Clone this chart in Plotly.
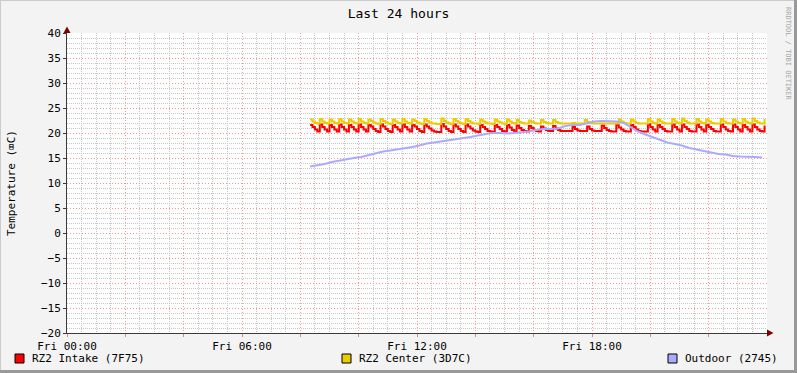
import pandas as pd
import plotly.graph_objects as go

# ---- data (5-minute samples starting Fri 08:20) ----
intake = [
    21.6, 21.2, 20.7, 20.3, 21.7, 21.2, 20.7, 20.3, 21.6, 21.2, 20.7, 20.3,
    21.7, 21.2, 20.7, 20.3, 21.6, 21.2, 20.7, 20.3, 21.7, 21.2, 20.7, 20.3,
    21.6, 21.3, 20.8, 20.4, 20.2, 21.7, 21.3, 20.8, 20.4, 20.2, 21.6, 21.2,
    20.7, 20.3, 21.7, 21.2, 20.7, 20.3, 21.6, 21.3, 20.8, 20.4, 20.2, 21.7,
    21.3, 20.9, 20.5, 20.3, 20.2, 20.2, 21.8, 21.3, 20.8, 20.4, 20.2, 21.7,
    21.3, 20.8, 20.4, 20.2, 21.7, 21.3, 20.9, 20.5, 20.3, 20.2, 21.6, 21.2,
    20.8, 20.4, 20.3, 20.2, 21.6, 21.2, 20.8, 20.4, 20.3, 21.6, 21.1, 20.6,
    20.3, 21.5, 21.0, 20.6, 20.4, 20.3, 21.4, 21.0, 20.6, 20.4, 20.3, 21.3,
    20.9, 20.6, 20.4, 20.4, 21.4, 20.9, 20.6, 20.4, 20.4, 20.4, 20.4, 20.4,
    21.2, 20.8, 20.5, 20.4, 20.4, 20.4, 21.3, 20.8, 20.5, 20.4, 20.4, 20.4,
    21.5, 21.0, 20.6, 20.4, 20.3, 20.3, 21.6, 21.1, 20.7, 20.4, 20.3, 20.3,
    21.6, 21.2, 20.7, 20.4, 20.3, 20.3, 20.3, 21.7, 21.2, 20.7, 20.3, 21.6,
    21.2, 20.8, 20.4, 20.3, 20.3, 21.7, 21.2, 20.7, 20.3, 21.7, 21.2, 20.8,
    20.4, 20.3, 20.3, 21.7, 21.2, 20.7, 20.3, 21.6, 21.2, 20.8, 20.4, 20.3,
    20.3, 21.7, 21.2, 20.7, 20.4, 20.3, 21.7, 21.2, 20.7, 20.3, 21.6, 21.2,
    20.7, 20.3, 21.7, 21.2, 20.7, 20.4, 20.3, 21.5,
]
center = [
    22.7, 22.3, 22.0, 21.9, 22.8, 22.3, 22.0, 21.9, 22.7, 22.3, 22.0, 21.9,
    22.8, 22.3, 22.0, 21.9, 22.7, 22.3, 22.0, 21.9, 22.8, 22.3, 22.0, 21.9,
    22.7, 22.4, 22.1, 21.9, 21.8, 22.8, 22.4, 22.1, 21.9, 21.8, 22.7, 22.3,
    22.0, 21.9, 22.8, 22.3, 22.0, 21.9, 22.7, 22.4, 22.1, 21.9, 21.8, 22.8,
    22.4, 22.1, 21.9, 21.9, 21.8, 21.8, 22.9, 22.4, 22.1, 21.9, 21.8, 22.8,
    22.4, 22.1, 21.9, 21.8, 22.8, 22.4, 22.1, 21.9, 21.9, 21.8, 22.7, 22.3,
    22.1, 21.9, 21.9, 21.8, 22.7, 22.3, 22.1, 21.9, 21.8, 22.7, 22.3, 22.0,
    21.9, 22.6, 22.2, 22.0, 21.9, 21.9, 22.5, 22.2, 22.0, 21.9, 21.9, 22.6,
    22.2, 22.0, 21.9, 21.9, 22.6, 22.2, 22.0, 21.9, 21.9, 21.9, 21.9, 21.9,
    22.0, 21.9, 21.9, 21.9, 21.9, 22.6, 22.2, 22.0, 21.9, 21.9, 21.9, 21.9,
    21.9, 21.9, 21.9, 21.9, 21.9, 21.9, 21.9, 22.7, 22.3, 22.0, 21.9, 21.9,
    22.7, 22.3, 22.0, 21.9, 21.9, 21.9, 21.9, 22.8, 22.3, 22.0, 21.9, 22.7,
    22.3, 22.0, 21.9, 21.9, 21.9, 22.8, 22.3, 22.0, 21.9, 22.9, 22.4, 22.1,
    21.9, 21.9, 21.9, 22.8, 22.3, 22.0, 21.9, 22.7, 22.3, 22.0, 21.9, 21.9,
    21.9, 22.8, 22.3, 22.0, 21.9, 21.9, 22.7, 22.3, 22.0, 21.9, 22.8, 22.3,
    22.0, 21.9, 22.9, 22.4, 22.1, 21.9, 21.9, 22.8,
]
# 15-minute samples starting Fri 08:20
outdoor = [
    13.3, 13.5, 13.8, 14.2, 14.5, 14.8, 15.0, 15.2, 15.6, 15.9, 16.3, 16.5,
    16.7, 16.9, 17.2, 17.5, 17.9, 18.1, 18.3, 18.5, 18.7, 19.0, 19.2, 19.5,
    19.8, 20.0, 20.0, 19.9, 20.0, 20.1, 20.3, 20.6, 20.8, 20.8, 20.9, 21.4,
    21.6, 21.6, 21.9, 22.3, 22.4, 22.3, 22.3, 22.0, 21.2, 20.3, 19.7, 19.2,
    18.6, 18.1, 17.8, 17.5, 17.0, 16.7, 16.4, 16.0, 15.8, 15.7, 15.4, 15.3,
    15.3, 15.2, 15.1,
]
series_names = ["RZ2 Intake (7F75)", "RZ2 Center (3D7C)", "Outdoor (2745)"]
series_colors = ["#FF0000", "#EACC00", "#AAAAFF"]
tick_hours = [0, 2, 4, 6, 8, 10, 12, 14, 16, 18, 20, 22]
tick_labels = ["Fri 00:00", "", "", "Fri 06:00", "", "", "Fri 12:00", "", "",
               "Fri 18:00", "", ""]
y_ticks = [-20, -15, -10, -5, 0, 5, 10, 15, 20, 25, 30, 35, 40]

day = pd.Timestamp("2024-01-05 00:00")
start = pd.Timestamp("2024-01-05 08:20")
t5 = pd.date_range(start, periods=len(intake), freq="5min")
t15 = pd.date_range(start, periods=len(outdoor), freq="15min")
tickvals = [day + pd.Timedelta(hours=h) for h in tick_hours]
# minor grid positions: every 30 min / every degree, skipping the major lines
x_minor = [day + pd.Timedelta(minutes=m) for m in range(30, 24 * 60, 30) if m % 120 != 0]
y_minor = [v for v in range(-19, 40) if v % 5 != 0]

FONT = "DejaVu Sans Mono"
fig = go.Figure()
fig.add_trace(go.Scatter(x=t5, y=intake, mode="lines", name=series_names[0],
                         line=dict(color=series_colors[0], width=2, shape="hv")))
fig.add_trace(go.Scatter(x=t5, y=center, mode="lines", name=series_names[1],
                         line=dict(color=series_colors[1], width=2, shape="hv")))
fig.add_trace(go.Scatter(x=t15, y=outdoor, mode="lines", name=series_names[2],
                         line=dict(color=series_colors[2], width=2)))

major_grid = "rgb(245,150,150)"
minor_grid = "#C8C8C8"
axis_col = "#3a3a3a"

fig.update_layout(
    width=797, height=373,
    margin=dict(l=67, r=30, t=33, b=40, autoexpand=False),
    paper_bgcolor="#F3F3F3", plot_bgcolor="#FFFFFF",
    showlegend=False,
    font=dict(family=FONT, size=11, color="#000000"),
    title=dict(text="Last 24 hours", x=0.5, xanchor="center", y=0.975, yanchor="top",
               font=dict(family=FONT, size=13, color="#000000")),
)
fig.update_xaxes(
    type="date", range=[day, day + pd.Timedelta(hours=24)], automargin=False,
    tickmode="array", tickvals=tickvals, ticktext=tick_labels,
    showgrid=True, gridcolor=major_grid, griddash="1px,2px", gridwidth=1,
    minor=dict(tickmode="array", tickvals=x_minor, showgrid=True, gridcolor=minor_grid,
               griddash="1px,1px", gridwidth=1, ticks=""),
    showline=True, linecolor=axis_col, linewidth=1,
    ticks="outside", ticklen=3, tickcolor="#F08080",
    tickfont=dict(family=FONT, size=11), zeroline=False,
)
fig.update_yaxes(
    range=[-20, 40], tickmode="array", tickvals=y_ticks, automargin=False,
    showgrid=True, gridcolor=major_grid, griddash="1px,2px", gridwidth=1,
    minor=dict(tickmode="array", tickvals=y_minor, showgrid=True, gridcolor=minor_grid,
               griddash="1px,1px", gridwidth=1, ticks=""),
    showline=True, linecolor=axis_col, linewidth=1,
    ticks="outside", ticklen=3, tickcolor=axis_col,
    tickfont=dict(family=FONT, size=11), zeroline=False,
)

W, H = 700.0, 300.0
def px(x):
    return (x - 67) / W
def py(y):
    return (333 - y) / H

shapes = []
# axis extensions and arrowheads
shapes.append(dict(type="line", xref="paper", yref="paper", x0=1.0, x1=px(771), y0=0, y1=0,
                   line=dict(color=axis_col, width=1)))
shapes.append(dict(type="path", xref="paper", yref="paper",
                   path=f"M {px(767)},{py(329.5)} L {px(773.5)},{py(333)} L {px(767)},{py(336.5)} Z",
                   fillcolor="#7F0000", line=dict(width=0)))
shapes.append(dict(type="line", xref="paper", yref="paper", x0=0, x1=0, y0=1.0, y1=py(29),
                   line=dict(color=axis_col, width=1)))
shapes.append(dict(type="path", xref="paper", yref="paper",
                   path=f"M {px(63.5)},{py(33)} L {px(67)},{py(26.5)} L {px(70.5)},{py(33)} Z",
                   fillcolor="#7F0000", line=dict(width=0)))
# 3D frame
shapes.append(dict(type="line", xref="paper", yref="paper", x0=px(0), x1=px(797), y0=py(0.5), y1=py(0.5),
                   line=dict(color="#CBCBCB", width=1)))
shapes.append(dict(type="line", xref="paper", yref="paper", x0=px(0.5), x1=px(0.5), y0=py(0), y1=py(373),
                   line=dict(color="#CBCBCB", width=1)))
shapes.append(dict(type="line", xref="paper", yref="paper", x0=px(0), x1=px(797), y0=py(371.5), y1=py(371.5),
                   line=dict(color="#999999", width=3)))
shapes.append(dict(type="line", xref="paper", yref="paper", x0=px(795.5), x1=px(795.5), y0=py(0), y1=py(373),
                   line=dict(color="#999999", width=3)))

annotations = []
# legend
legend_x = [15, 342, 668]
for name, col, lx in zip(series_names, series_colors, legend_x):
    shapes.append(dict(type="rect", xref="paper", yref="paper",
                       x0=px(lx), x1=px(lx + 9), y0=py(354), y1=py(363),
                       fillcolor=col, line=dict(color="#000000", width=1)))
    annotations.append(dict(text=name, xref="paper", yref="paper", x=px(lx + 15), y=py(358.5),
                            xanchor="left", yanchor="middle", showarrow=False,
                            font=dict(family=FONT, size=11, color="#000000")))
# y axis title
annotations.append(dict(text="Temperature (\u2327C)", xref="paper", yref="paper",
                        x=px(11), y=py(183), textangle=-90, showarrow=False,
                        xanchor="center", yanchor="middle",
                        font=dict(family=FONT, size=11, color="#000000")))
# watermark
annotations.append(dict(text="RRDTOOL / TOBI OETIKER", xref="paper", yref="paper",
                        x=px(788), y=py(54), textangle=90, showarrow=False,
                        xanchor="center", yanchor="middle",
                        font=dict(family=FONT, size=7, color="#A8A8A8")))

fig.update_layout(shapes=shapes, annotations=annotations)
fig.write_html("out.html", config={"displayModeBar": False},
               post_script="document.body.style.margin='0';document.body.style.padding='0';")
